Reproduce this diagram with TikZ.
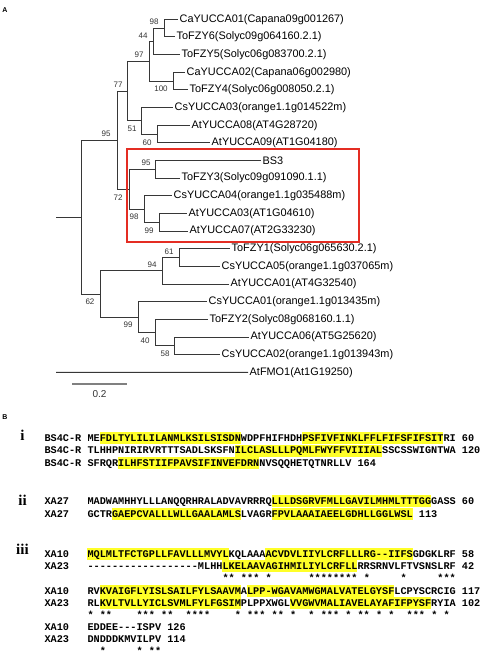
\documentclass[tikz,border=0pt]{standalone}
\usepackage{fontspec}
\setmainfont{Liberation Sans}
\setmonofont{Liberation Mono}
\newfontfamily\romanfont{Liberation Serif}
\usetikzlibrary{calc}

\definecolor{hlyellow}{RGB}{255,255,40}
\definecolor{boxred}{RGB}{228,45,35}
\definecolor{branchgray}{RGB}{55,55,55}

\tikzset{
  branch/.style={draw=branchgray, line width=0.9pt},
  leaf/.style={right, inner sep=1.5pt, font=\fontsize{10.9}{12}\selectfont},
  boot/.style={inner sep=0pt, text=black!80, font=\fontsize{8}{9}\selectfont},
  scalebar/.style={draw=gray, line width=1.6pt},
  seqtxt/.style={anchor=base west, inner sep=0pt, font=\fontsize{10.23}{12}\selectfont\ttfamily\bfseries},
  panel/.style={inner sep=0pt, font=\fontsize{7}{8}\selectfont\bfseries},
  partlbl/.style={anchor=base, inner sep=0pt, font=\fontsize{15}{16}\selectfont\romanfont\bfseries}
}
\newcommand\chw{6.14}
\newcommand\seqx{87.3}
\newcommand\namex{44.3}
% highlight: baseline, first column, last column
\newcommand\hlbox[3]{\fill[hlyellow] ({\seqx+#2*\chw},{#1-9}) rectangle ({\seqx+(#3+1)*\chw},{#1+2.8});}

\begin{document}
\begin{tikzpicture}[x=1pt, y=-1pt]
    \useasboundingbox (0,0) rectangle (480,658);

    % 面板标记
    \node[panel] (pa) at (5,10) {A};
    \node[panel] (pb) at (5,417) {B};

    % 叶节点
    \foreach \i/\ex/\lab in {
        0/178/CaYUCCA01(Capana09g001267),
        1/175/ToFZY6(Solyc09g064160.2.1),
        2/180/ToFZY5(Solyc06g083700.2.1),
        3/185/CaYUCCA02(Capana06g002980),
        4/188/ToFZY4(Solyc06g008050.2.1),
        5/173/CsYUCCA03(orange1.1g014522m),
        6/190/AtYUCCA08(AT4G28720),
        7/210/AtYUCCA09(AT1G04180),
        8/261/BS3,
        9/180/ToFZY3(Solyc09g091090.1.1),
        10/172/CsYUCCA04(orange1.1g035488m),
        11/187/AtYUCCA03(AT1G04610),
        12/188/AtYUCCA07(AT2G33230),
        13/230/ToFZY1(Solyc06g065630.2.1),
        14/220/CsYUCCA05(orange1.1g037065m),
        15/229/AtYUCCA01(AT4G32540),
        16/207/CsYUCCA01(orange1.1g013435m),
        17/208/ToFZY2(Solyc08g068160.1.1),
        18/249/AtYUCCA06(AT5G25620),
        19/220/CsYUCCA02(orange1.1g013943m),
        20/248/AtFMO1(At1G19250)}{
        \coordinate (l\i) at (\ex,{19.3+17.65*\i});
        \node[leaf] (t\i) at (l\i) {\lab};
    }

    % 内部节点
    \coordinate (n98a) at (164,28.15);
    \coordinate (n44)  at (153,41.4);
    \coordinate (n100) at (173,81.1);
    \coordinate (n97)  at (149,61.25);
    \coordinate (n60)  at (157,134.05);
    \coordinate (n51)  at (141,120.8);
    \coordinate (n77)  at (127,91.0);
    \coordinate (n95b) at (155,169.35);
    \coordinate (n99a) at (159,222.3);
    \coordinate (n98b) at (144,209.05);
    \coordinate (nbox) at (129,189.2);
    \coordinate (n72)  at (117,140.1);
    \coordinate (n61)  at (179,257.6);
    \coordinate (n94)  at (162,270.85);
    \coordinate (n58)  at (174,345.85);
    \coordinate (n40)  at (155,332.6);
    \coordinate (n99c) at (138,317.15);
    \coordinate (n62)  at (100,294.0);
    \coordinate (root) at (81,217.05);
    \coordinate (stem) at (56,217.05);
    \coordinate (outg) at (56,372.3);

    % 分支
    \foreach \p/\c in {n98a/l0, n98a/l1, n44/n98a, n44/l2, n100/l3, n100/l4,
        n97/n44, n97/n100, n60/l6, n60/l7, n51/l5, n51/n60, n77/n97, n77/n51,
        n95b/l8, n95b/l9, n99a/l11, n99a/l12, n98b/l10, n98b/n99a,
        nbox/n95b, nbox/n98b, n72/n77, n72/nbox,
        n61/l13, n61/l14, n94/n61, n94/l15, n58/l18, n58/l19,
        n40/l17, n40/n58, n99c/l16, n99c/n40, n62/n94, n62/n99c,
        root/n72, root/n62}
        \draw[branch] (\p) |- (\c);
    \draw[branch] (stem) -- (root);
    \draw[branch] (outg) -- (l20);

    % 支持率
    \foreach \bx/\by/\bv [count=\k] in {154/22/98, 143/36/44, 139/55/97, 161/89/100,
        118/85/77, 132/129/51, 147/143/60, 106/134/95, 146/163/95, 118/198/72,
        134/217/98, 149/231/99, 169/251.5/61, 152/265/94, 90/302/62, 128/325/99,
        145/341/40, 165/354/58}
        \node[boot] (b\k) at (\bx,\by) {\bv};

    % 红框
    \draw[boxred, line width=1.8pt] (127,149) rectangle (359,242);

    % 标尺
    \coordinate (sb0) at (72,384);
    \coordinate (sb1) at (127,384);
    \draw[scalebar] (sb0) -- (sb1) node[midway, below=6pt, inner sep=0pt, text=black!80,
        font=\fontsize{10}{11}\selectfont] (sblab) {0.2};

    % 高亮
    \hlbox{441.3}{2}{24} \hlbox{441.3}{35}{57}
    \hlbox{453.8}{24}{47}
    \hlbox{466.3}{5}{27}
    \hlbox{504}{30}{55}
    \hlbox{517}{4}{24} \hlbox{517}{30}{52}
    \hlbox{557.3}{0}{22} \hlbox{557.3}{29}{52}
    \hlbox{569.3}{22}{43}
    \hlbox{594}{2}{24} \hlbox{594}{26}{49}
    \hlbox{606}{2}{24} \hlbox{606}{33}{55}

    % i
    \node[partlbl] (pi) at (22.5,440) {i};
    \node[seqtxt] (ia) at (\namex,441.3) {BS4C-R};
    \node[seqtxt] (iaseq) at (\seqx,441.3) {MEFDLTYLILILANMLKSILSISDNWDPFHIFHDHPSFIVFINKLFFLFIFSFIFSITRI 60};
    \node[seqtxt] (ib) at (\namex,453.8) {BS4C-R};
    \node[seqtxt] (ibseq) at (\seqx,453.8) {TLHHPNIRIRVRTTTSADLSKSFNILCLASLLLPQMLFWYFFVIIIALSSCSSWIGNTWA 120};
    \node[seqtxt] (ic) at (\namex,466.3) {BS4C-R};
    \node[seqtxt] (icseq) at (\seqx,466.3) {SFRQRILHFSTIIFPAVSIFINVEFDRNNVSQQHETQTNRLLV 164};

    % ii
    \node[partlbl] (pii) at (22.5,505) {ii};
    \node[seqtxt] (iia) at (\namex,504) {XA27};
    \node[seqtxt] (iiaseq) at (\seqx,504) {MADWAMHHYLLLANQQRHRALADVAVRRRQLLLDSGRVFMLLGAVILMHMLTTTGGGASS 60};
    \node[seqtxt] (iib) at (\namex,517) {XA27};
    \node[seqtxt] (iibseq) at (\seqx,517) {GCTRGAEPCVALLLWLLGAALAMLSLVAGRFPVLAAAIAEELGDHLLGGLWSL 113};

    % iii
    \node[partlbl] (piii) at (22.5,554) {iii};
    \node[seqtxt] (x10a) at (\namex,557.3) {XA10};
    \node[seqtxt] (x10aseq) at (\seqx,557.3) {MQLMLTFCTGPLLFAVLLLMVYLKQLAAAACVDVLIIYLCRFLLLRG--IIFSGDGKLRF 58};
    \node[seqtxt] (x23a) at (\namex,569.3) {XA23};
    \node[seqtxt] (x23aseq) at (\seqx,569.3) {------------------MLHHLKELAAVAGIHMILIYLCRFLLRRSRNVLFTVSNSLRF 42};
    \node[seqtxt] (sta) at ({\seqx+22*\chw},581.3) {**~***~*~~~~~~********~*~~~~~*~~~~~***};

    \node[seqtxt] (x10b) at (\namex,594) {XA10};
    \node[seqtxt] (x10bseq) at (\seqx,594) {RVKVAIGFLYISLSAILFYLSAAVMALPP-WGAVAMWGMALVATELGYSFLCPYSCRCIG 117};
    \node[seqtxt] (x23b) at (\namex,606) {XA23};
    \node[seqtxt] (x23bseq) at (\seqx,606) {RLKVLTVLLYICLSVMLFYLFGSIMPLPPXWGLVVGWVMALIAVELAYAFIFPYSFRYIA 102};
    \node[seqtxt] (stb) at (\seqx,618) {*~**~~~~***~**~~****~~~~*~***~**~*~~*~***~*~**~*~*~~***~*~*};

    \node[seqtxt] (x10c) at (\namex,630.5) {XA10};
    \node[seqtxt] (x10cseq) at (\seqx,630.5) {EDDEE---ISPV 126};
    \node[seqtxt] (x23c) at (\namex,642.5) {XA23};
    \node[seqtxt] (x23cseq) at (\seqx,642.5) {DNDDDKMVILPV 114};
    \node[seqtxt] (stc) at ({\seqx+2*\chw},654.5) {*~~~~~*~**};
\end{tikzpicture}
\end{document}
